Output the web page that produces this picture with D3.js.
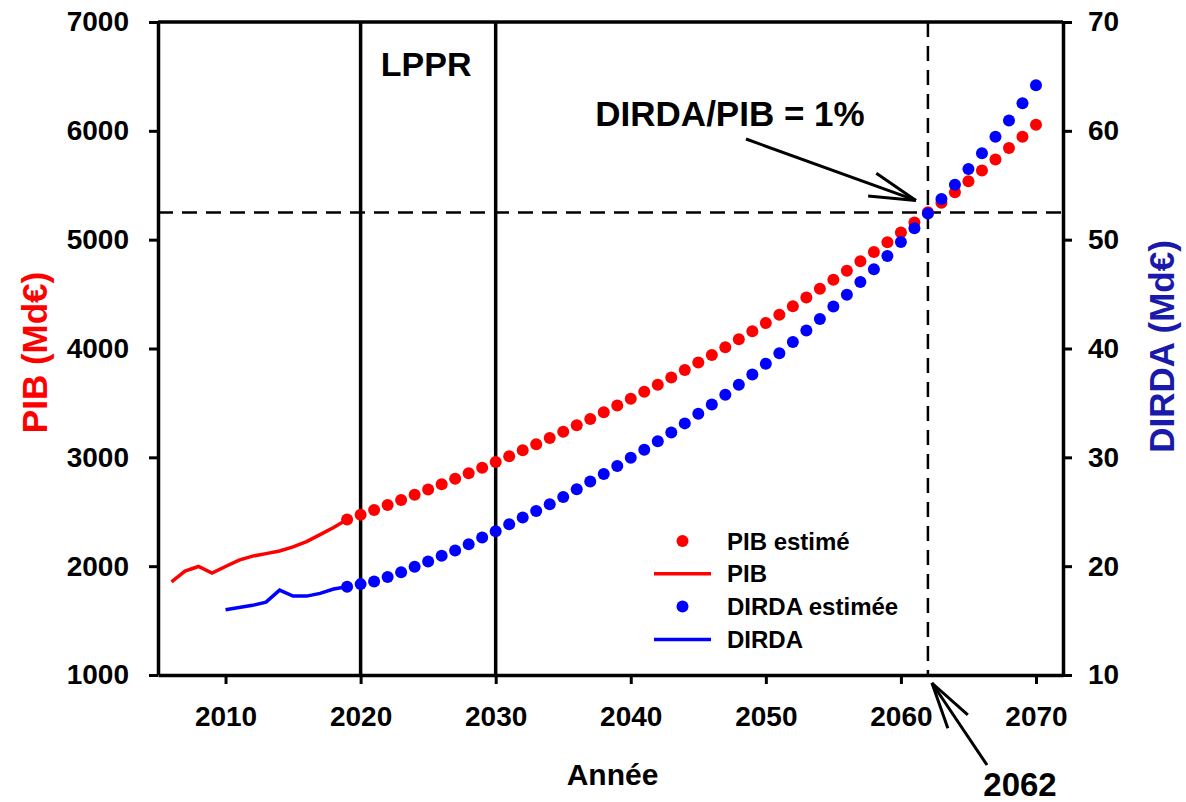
<!DOCTYPE html>
<html>
<head>
<meta charset="utf-8">
<script src="https://cdn.jsdelivr.net/npm/d3@7"></script>
<style>
  body { margin: 0; background: #fff; }
  text { font-family: "Liberation Sans", Arial, sans-serif; font-weight: bold; }
</style>
</head>
<body>
<div id="chart"></div>
<script>
// historical series
const pibYears = [2006, 2007, 2008, 2009, 2010, 2011, 2012, 2013, 2014, 2015, 2016, 2017, 2018, 2019];
const pibValues = [1856, 1954, 1997, 1936, 1997, 2055, 2092, 2115, 2140, 2177, 2226, 2290, 2355, 2428];

const dirdaYears = [2010, 2011, 2012, 2013, 2014, 2015, 2016, 2017, 2018, 2019];
const dirdaValues = [16.0, 16.2, 16.4, 16.7, 17.8, 17.25, 17.25, 17.5, 17.9, 18.1];

// estimated series, one point per year 2019 -> 2070
const estYears = d3.range(2019, 2071);
const pibEst = [2428, 2472, 2517, 2562, 2609, 2656, 2704, 2753, 2803, 2853,
  2905, 2958, 3011, 3066, 3121, 3178, 3235, 3294, 3353, 3414,
  3476, 3539, 3603, 3668, 3734, 3802, 3871, 3941, 4012, 4085,
  4159, 4234, 4311, 4389, 4468, 4549, 4631, 4715, 4801, 4887,
  4976, 5066, 5158, 5251, 5340, 5435, 5536, 5636, 5737, 5843,
  5945, 6055];
const dirdaEst = [18.1, 18.35, 18.6, 19.0, 19.45, 19.94, 20.43, 20.95, 21.44, 22.02,
  22.63, 23.2, 23.85, 24.47, 25.07, 25.69, 26.36, 27.06, 27.77, 28.47,
  29.2, 29.97, 30.7, 31.47, 32.29, 33.12, 34.0, 34.86, 35.75, 36.67,
  37.61, 38.6, 39.57, 40.6, 41.65, 42.72, 43.85, 44.93, 46.12, 47.28,
  48.5, 49.78, 51.04, 52.4, 53.73, 55.05, 56.49, 57.95, 59.45, 60.95,
  62.54, 64.19];

const xTicks = [2010, 2020, 2030, 2040, 2050, 2060, 2070];
const leftTicks = [1000, 2000, 3000, 4000, 5000, 6000, 7000];
const rightTicks = [10, 20, 30, 40, 50, 60, 70];

const lpprYears = [2020, 2030];
const crossYear = 2062;
const crossPib = 5250;

const legendItems = [
  { label: "PIB estimé", color: "#ff0000", type: "dot" },
  { label: "PIB", color: "#ff0000", type: "line" },
  { label: "DIRDA estimée", color: "#0000ff", type: "dot" },
  { label: "DIRDA", color: "#0000ff", type: "line" }
];

function drawChart() {
  var width = 1186;
  var height = 802;
  var pLeft = 158, pRight = 1063, pTop = 22, pBottom = 675;

  var svg = d3.select("#chart").append("svg")
    .attr("width", width)
    .attr("height", height);

  /* Scales */
  var x = d3.scaleLinear().domain([2005, 2072]).range([pLeft, pRight]);
  var yL = d3.scaleLinear().domain([1000, 7000]).range([pBottom, pTop]);
  var yR = d3.scaleLinear().domain([10, 70]).range([pBottom, pTop]);

  /* reference lines */
  svg.selectAll(".lppr")
    .data(lpprYears)
    .enter()
    .append("line")
    .attr("class", "lppr")
    .attr("x1", d => x(d)).attr("x2", d => x(d))
    .attr("y1", pTop).attr("y2", pBottom)
    .attr("stroke", "#000").attr("stroke-width", 3.5);

  svg.append("line")
    .attr("x1", x(crossYear)).attr("x2", x(crossYear))
    .attr("y1", pTop).attr("y2", pBottom)
    .attr("stroke", "#000").attr("stroke-width", 2.5)
    .attr("stroke-dasharray", "15,9");

  svg.append("line")
    .attr("x1", pLeft).attr("x2", pRight)
    .attr("y1", yL(crossPib)).attr("y2", yL(crossPib))
    .attr("stroke", "#000").attr("stroke-width", 2.5)
    .attr("stroke-dasharray", "15,9");

  /* historical lines */
  var lineL = d3.line().x(d => x(d[0])).y(d => yL(d[1]));
  var lineR = d3.line().x(d => x(d[0])).y(d => yR(d[1]));

  svg.append("path")
    .attr("d", lineL(d3.zip(pibYears, pibValues)))
    .attr("fill", "none").attr("stroke", "#ff0000").attr("stroke-width", 3.5);

  svg.append("path")
    .attr("d", lineR(d3.zip(dirdaYears, dirdaValues)))
    .attr("fill", "none").attr("stroke", "#0000ff").attr("stroke-width", 3.5);

  /* estimated dots */
  svg.append("g").selectAll("circle")
    .data(d3.zip(estYears, pibEst))
    .enter().append("circle")
    .attr("cx", d => x(d[0])).attr("cy", d => yL(d[1]))
    .attr("r", 6).attr("fill", "#ff0000");

  svg.append("g").selectAll("circle")
    .data(d3.zip(estYears, dirdaEst))
    .enter().append("circle")
    .attr("cx", d => x(d[0])).attr("cy", d => yR(d[1]))
    .attr("r", 6).attr("fill", "#0000ff");

  /* Axes */
  function styleAxis(g, size) {
    g.select(".domain").attr("stroke-width", 3.5);
    g.selectAll(".tick line").attr("stroke-width", 3);
    g.selectAll(".tick text").style("font-size", size + "px").attr("fill", "#000");
  }

  svg.append("g")
    .attr("transform", `translate(0, ${pBottom})`)
    .call(d3.axisBottom(x).tickValues(xTicks).tickFormat(d3.format("d")).tickSize(9).tickSizeOuter(0).tickPadding(22))
    .call(g => styleAxis(g, 28));

  svg.append("g")
    .attr("transform", `translate(${pLeft}, 0)`)
    .call(d3.axisLeft(yL).tickValues(leftTicks).tickFormat(d3.format("d")).tickSize(9).tickSizeOuter(0).tickPadding(20))
    .call(g => styleAxis(g, 28));

  svg.append("g")
    .attr("transform", `translate(${pRight}, 0)`)
    .call(d3.axisRight(yR).tickValues(rightTicks).tickSize(9).tickSizeOuter(0).tickPadding(16))
    .call(g => styleAxis(g, 28));

  svg.append("line")
    .attr("x1", pLeft).attr("x2", pRight)
    .attr("y1", pTop).attr("y2", pTop)
    .attr("stroke", "#000").attr("stroke-width", 3.5);

  /* Axis titles */
  svg.append("text")
    .attr("transform", `translate(47, ${(pTop + pBottom) / 2 + 4}) rotate(-90)`)
    .attr("text-anchor", "middle")
    .style("font-size", "35px")
    .attr("fill", "#ff0000")
    .text("PIB (Md€)");

  svg.append("text")
    .attr("transform", `translate(1174, ${(pTop + pBottom) / 2 - 2}) rotate(-90)`)
    .attr("text-anchor", "middle")
    .style("font-size", "35px")
    .attr("fill", "#1a1aaa")
    .text("DIRDA (Md€)");

  svg.append("text")
    .attr("x", (pLeft + pRight) / 2 + 2)
    .attr("y", 785)
    .attr("text-anchor", "middle")
    .style("font-size", "30px")
    .text("Année");

  /* annotations */
  svg.append("text")
    .attr("x", x(2025) - 2)
    .attr("y", 76)
    .attr("text-anchor", "middle")
    .style("font-size", "34px")
    .text("LPPR");

  svg.append("text")
    .attr("x", 730)
    .attr("y", 126)
    .attr("text-anchor", "middle")
    .style("font-size", "35px")
    .text("DIRDA/PIB = 1%");

  svg.append("text")
    .attr("x", 1020)
    .attr("y", 796)
    .attr("text-anchor", "middle")
    .style("font-size", "33px")
    .text("2062");

  function arrow(x0, y0, x1, y1) {
    var ang = Math.atan2(y0 - y1, x0 - x1);
    var len = 48, spread = 14.5 * Math.PI / 180;
    var g = svg.append("g").attr("stroke", "#000").attr("stroke-width", 3).attr("fill", "none");
    g.append("line").attr("x1", x0).attr("y1", y0).attr("x2", x1).attr("y2", y1);
    [-spread, spread].forEach(function (s) {
      g.append("line")
        .attr("x1", x1).attr("y1", y1)
        .attr("x2", x1 + len * Math.cos(ang + s))
        .attr("y2", y1 + len * Math.sin(ang + s));
    });
  }
  arrow(746, 139, x(crossYear) - 12, yL(crossPib) - 12);
  arrow(987, 765, x(crossYear) + 4, pBottom + 8);

  /* Legend */
  var legend = svg.append("g").attr("transform", "translate(654, 541)");
  legendItems.forEach(function (d, i) {
    var row = legend.append("g").attr("transform", `translate(0, ${i * 32.8})`);
    if (d.type === "dot") {
      row.append("circle").attr("cx", 28.5).attr("cy", 0).attr("r", 6).attr("fill", d.color);
    } else {
      row.append("line").attr("x1", 0).attr("x2", 57).attr("y1", 0).attr("y2", 0)
        .attr("stroke", d.color).attr("stroke-width", 3.5);
    }
    row.append("text")
      .attr("x", 73)
      .attr("y", 8.5)
      .style("font-size", "24px")
      .text(d.label);
  });
}

drawChart();
</script>
</body>
</html>
